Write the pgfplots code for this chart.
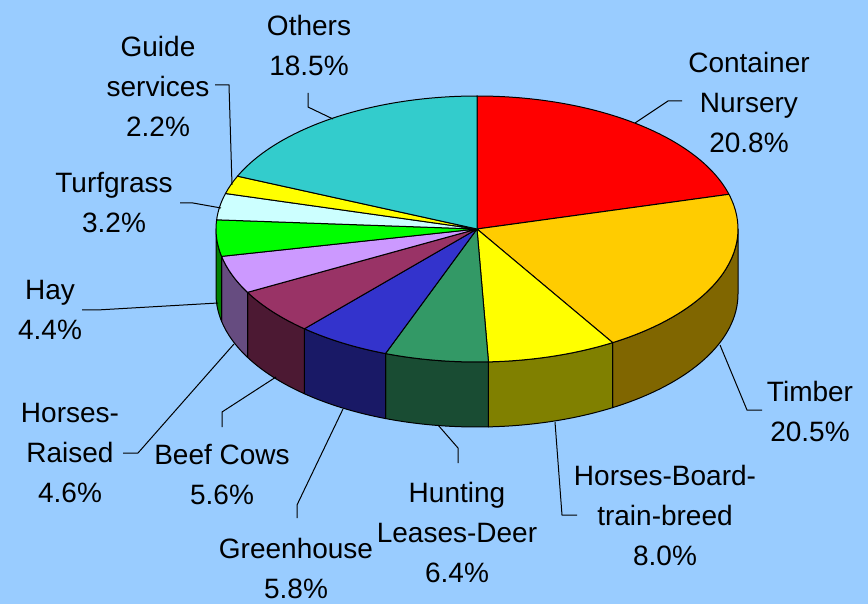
\documentclass[border=0pt]{standalone}
\usepackage{pgfplots}
\pgfplotsset{compat=1.18}
\usepackage{fontspec}
\setmainfont{Liberation Sans}
\definecolor{bgblue}{HTML}{99CCFF}
\definecolor{cA}{HTML}{FF0000}
\definecolor{cB}{HTML}{FFCC00}
\definecolor{cC}{HTML}{FFFF00}
\definecolor{cD}{HTML}{339966}
\definecolor{cE}{HTML}{3333CC}
\definecolor{cF}{HTML}{993366}
\definecolor{cG}{HTML}{CC99FF}
\definecolor{cH}{HTML}{00FF00}
\definecolor{cI}{HTML}{CCFFFF}
\definecolor{cJ}{HTML}{FFFF00}
\definecolor{cK}{HTML}{33CCCC}
\def\cx{477}\def\cy{229}
\def\rx{261}\def\ry{133}\def\dep{65}
\begin{document}
\begin{tikzpicture}
\begin{axis}[
  x=1pt, y=1pt, y dir=reverse,
  xmin=0, xmax=868, ymin=0, ymax=604,
  hide axis, clip=false,
]
\fill[bgblue] (axis cs:0,0) rectangle (axis cs:868,604);
% side faces
\xdef\cum{0}
\foreach \v/\col in {20.8/cA,20.5/cB,8.0/cC,6.4/cD,5.8/cE,5.6/cF,4.6/cG,4.4/cH,3.2/cI,2.2/cJ,18.5/cK} {
  \pgfmathsetmacro\a{90-3.6*\cum}
  \pgfmathsetmacro\b{90-3.6*(\cum+\v)}
  \pgfmathsetmacro\s{min(\a,0)}
  \pgfmathsetmacro\e{max(\b,-180)}
  \pgfmathtruncatemacro\vis{\s>\e}
  \ifnum\vis=1
    \edef\temp{\noexpand\filldraw[fill=\col!50!black, draw=black, line width=1pt, line join=round]
      (axis cs:\cx,\cy) ++(\s:\rx pt and \ry pt)
      arc[start angle=\s, end angle=\e, x radius=\rx pt, y radius=\ry pt]
      -- ++(0pt,-\dep pt)
      arc[start angle=\e, end angle=\s, x radius=\rx pt, y radius=\ry pt]
      -- cycle;}
    \temp
  \fi
  \pgfmathsetmacro\newcum{\cum+\v}
  \xdef\cum{\newcum}
}
% top faces
\xdef\cum{0}
\foreach \v/\col in {20.8/cA,20.5/cB,8.0/cC,6.4/cD,5.8/cE,5.6/cF,4.6/cG,4.4/cH,3.2/cI,2.2/cJ,18.5/cK} {
  \pgfmathsetmacro\a{90-3.6*\cum}
  \pgfmathsetmacro\b{90-3.6*(\cum+\v)}
  \edef\temp{\noexpand\filldraw[fill=\col, draw=black, line width=1pt, line join=round]
    (axis cs:\cx,\cy) -- ++(\a:\rx pt and \ry pt)
    arc[start angle=\a, end angle=\b, x radius=\rx pt, y radius=\ry pt]
    -- cycle;}
  \temp
  \pgfmathsetmacro\newcum{\cum+\v}
  \xdef\cum{\newcum}
}
% leader lines
\begin{scope}[line width=1pt]
\draw (axis cs:635,123) -- (axis cs:668,101) -- (axis cs:682,101);
\draw (axis cs:720,345) -- (axis cs:747,410) -- (axis cs:762,410);
\draw (axis cs:555,422) -- (axis cs:562,515) -- (axis cs:577,515);
\draw (axis cs:438,425) -- (axis cs:458,448) -- (axis cs:458,463);
\draw (axis cs:343,409) -- (axis cs:297,505) -- (axis cs:297,518);
\draw (axis cs:276,377) -- (axis cs:222,412) -- (axis cs:222,427);
\draw (axis cs:234,344) -- (axis cs:138,453) -- (axis cs:123,453);
\draw (axis cs:218,303) -- (axis cs:97,310) -- (axis cs:82,310);
\draw (axis cs:221,208) -- (axis cs:193,203) -- (axis cs:180,203);
\draw (axis cs:232,185) -- (axis cs:229,85) -- (axis cs:215,85);
\draw (axis cs:333,119) -- (axis cs:308,107) -- (axis cs:308,93);
\end{scope}
% labels
\begin{scope}[every node/.style={font=\fontsize{28}{40}\selectfont, align=center, inner sep=0pt}]
\node at (axis cs:749,102) {Container\\Nursery\\20.8\%};
\node at (axis cs:810,411) {Timber\\20.5\%};
\node at (axis cs:665,515) {Horses-Board-\\train-breed\\8.0\%};
\node at (axis cs:457,532) {Hunting\\Leases-Deer\\6.4\%};
\node at (axis cs:296,568) {Greenhouse\\5.8\%};
\node at (axis cs:222,475) {Beef Cows\\5.6\%};
\node at (axis cs:70,453) {Horses-\\Raised\\4.6\%};
\node at (axis cs:50,310) {Hay\\4.4\%};
\node at (axis cs:114,203) {Turfgrass\\3.2\%};
\node at (axis cs:158,86) {Guide\\services\\2.2\%};
\node at (axis cs:309,45) {Others\\18.5\%};
\end{scope}
\end{axis}
\end{tikzpicture}
\end{document}
